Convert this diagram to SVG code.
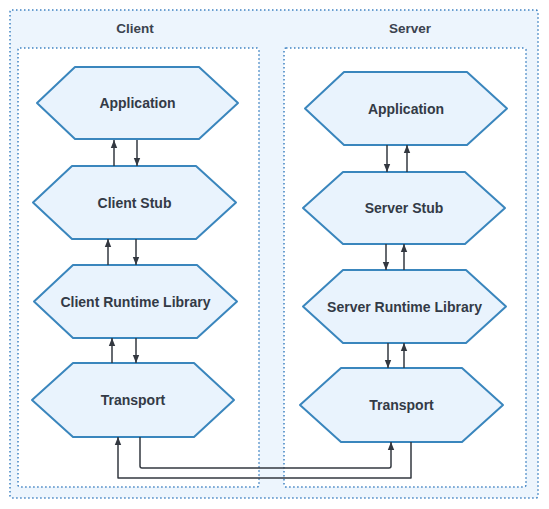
<svg xmlns="http://www.w3.org/2000/svg" width="549" height="509" viewBox="0 0 549 509">
<style>
.outer{fill:#edf5fd;stroke:#3f82c2;stroke-width:1.5;stroke-dasharray:1.5 2.5}
.box{fill:#ffffff;stroke:#3f82c2;stroke-width:1.5;stroke-dasharray:1.5 2.5}
.hex{fill:#e9f3fd;stroke:#3a86bd;stroke-width:2;stroke-linejoin:round}
.hdr{font-family:"Liberation Sans",Arial,sans-serif;font-weight:bold;font-size:13.5px;fill:#3b434f;text-anchor:middle}
.lbl{font-family:"Liberation Sans",Arial,sans-serif;font-weight:bold;font-size:14px;fill:#333a46;text-anchor:middle}
.c{fill:none;stroke:#333840;stroke-width:1.5;stroke-linejoin:round}
</style>
<defs>
<marker id="ah" viewBox="0 0 10 10" refX="10" refY="5" markerWidth="8" markerHeight="8" markerUnits="userSpaceOnUse" orient="auto">
<path d="M0,1 L10,5 L0,9 Z" fill="#333840"/>
</marker>
</defs>
<g id="container">
<rect class="outer" x="10" y="10" width="528" height="488" rx="2"/>
<text class="hdr" x="135" y="33">Client</text>
<text class="hdr" x="410" y="33">Server</text>
</g>
<g id="client-box"><rect class="box" x="18" y="48" width="241" height="439" rx="2"/></g>
<g id="server-box"><rect class="box" x="284" y="48" width="242" height="439" rx="2"/></g>

<g id="client-app"><polygon class="hex" points="37,103 75,67 199,67 238,103 199,139 75,139"/><text class="lbl" x="137.5" y="108">Application</text></g>
<g id="client-stub"><polygon class="hex" points="33,202.5 72,166 196,166 236,202.5 196,239 72,239"/><text class="lbl" x="134.5" y="207.5">Client Stub</text></g>
<g id="client-rtl"><polygon class="hex" points="34,301.5 73,265 197,265 237,301.5 197,338 73,338"/><text class="lbl" x="135.5" y="306.5">Client Runtime Library</text></g>
<g id="client-transport"><polygon class="hex" points="32,400 73,363 194,363 234,400 194,437 73,437"/><text class="lbl" x="133" y="405">Transport</text></g>

<g id="server-app"><polygon class="hex" points="305,108.5 344,72 467,72 507,108.5 467,145 344,145"/><text class="lbl" x="406" y="113.5">Application</text></g>
<g id="server-stub"><polygon class="hex" points="303,208 343,172 465,172 505,208 465,244 343,244"/><text class="lbl" x="404" y="213">Server Stub</text></g>
<g id="server-rtl"><polygon class="hex" points="303,306.5 343,270 466,270 506,306.5 466,343 343,343"/><text class="lbl" x="404.5" y="311.5">Server Runtime Library</text></g>
<g id="server-transport"><polygon class="hex" points="300,405 341,368 462,368 503,405 462,442 341,442"/><text class="lbl" x="401.5" y="410">Transport</text></g>

<g id="connectors">
<line class="c" x1="114" y1="166" x2="114" y2="140" marker-end="url(#ah)"/>
<line class="c" x1="137" y1="140" x2="137" y2="166" marker-end="url(#ah)"/>
<line class="c" x1="108" y1="265" x2="108" y2="239" marker-end="url(#ah)"/>
<line class="c" x1="136" y1="239" x2="136" y2="265" marker-end="url(#ah)"/>
<line class="c" x1="112" y1="363" x2="112" y2="338" marker-end="url(#ah)"/>
<line class="c" x1="136" y1="338" x2="136" y2="363" marker-end="url(#ah)"/>
<line class="c" x1="387" y1="145" x2="387" y2="172" marker-end="url(#ah)"/>
<line class="c" x1="407" y1="172" x2="407" y2="145" marker-end="url(#ah)"/>
<line class="c" x1="386" y1="244" x2="386" y2="270" marker-end="url(#ah)"/>
<line class="c" x1="404" y1="270" x2="404" y2="244" marker-end="url(#ah)"/>
<line class="c" x1="388" y1="343" x2="388" y2="368" marker-end="url(#ah)"/>
<line class="c" x1="404" y1="368" x2="404" y2="343" marker-end="url(#ah)"/>
<path class="c" d="M140,437 V466 Q140,468 142,468 H389 Q391,468 391,466 V442" marker-end="url(#ah)"/>
<path class="c" d="M411,442 V478 H118 V437" marker-end="url(#ah)"/>
</g>
</svg>
